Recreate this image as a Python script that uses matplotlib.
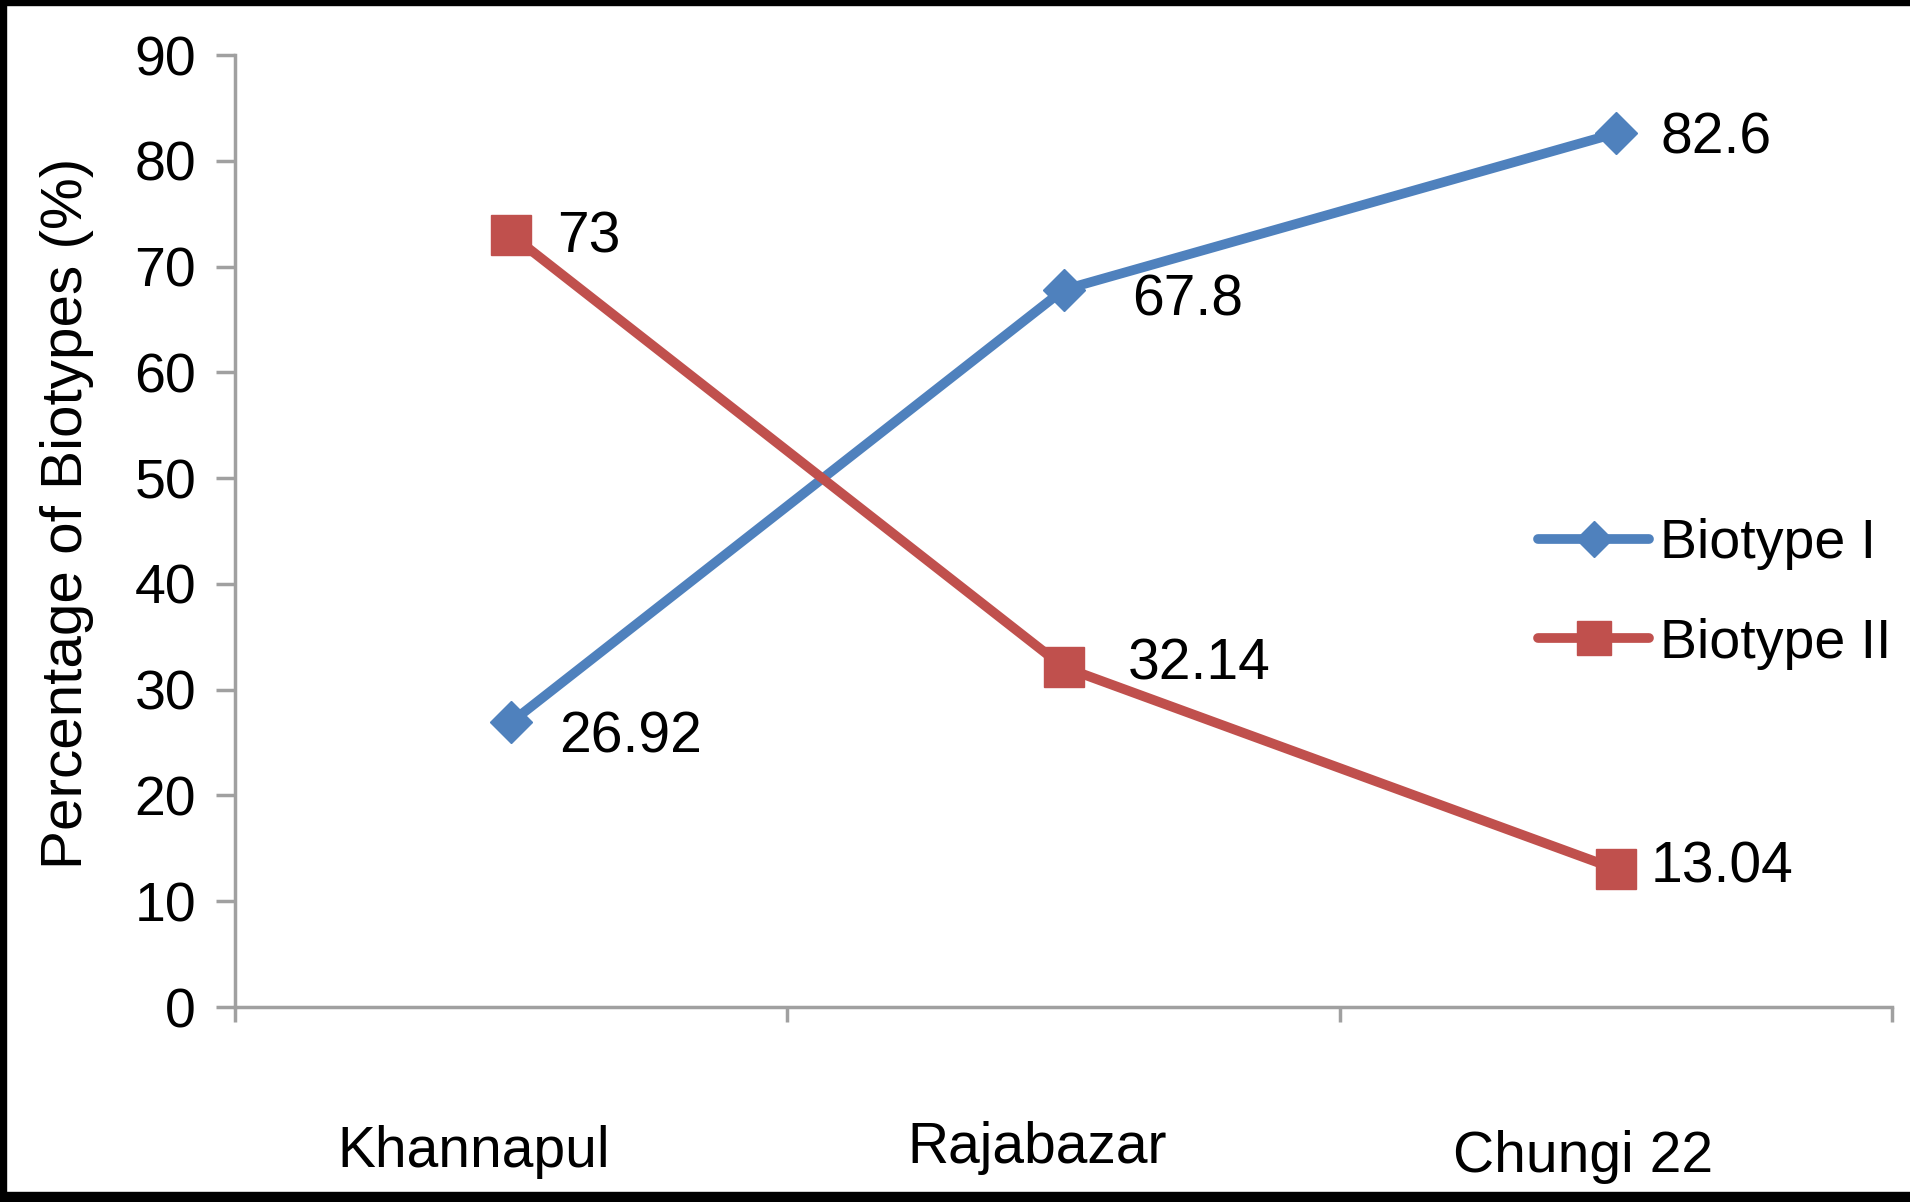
import matplotlib
matplotlib.use("Agg")
import matplotlib.pyplot as plt
from matplotlib.patches import Rectangle

# Data
sitios = ["Khannapul", "Rajabazar", "Chungi 22"]
biotipo_1 = [26.92, 67.8, 82.6]
biotipo_2 = [73, 32.14, 13.04]
etiquetas_1 = ["26.92", "67.8", "82.6"]
etiquetas_2 = ["73", "32.14", "13.04"]
ticks_y = [0, 10, 20, 30, 40, 50, 60, 70, 80, 90]

azul = "#4F81BD"
rojo = "#C0504D"
gris = "#A0A0A0"

plt.rcParams["font.family"] = ["Liberation Sans", "DejaVu Sans"]

W, H = 1910, 1202
fig = plt.figure(figsize=(W / 100, H / 100), dpi=100)
ax = fig.add_axes([235 / W, (H - 1007) / H, (1892 - 235) / W, (1007 - 55) / H])

x = list(range(len(sitios)))
ax.plot(x, biotipo_1, color=azul, lw=7, marker="D", ms=21, label="Biotype I",
        solid_joinstyle="round", solid_capstyle="round")
ax.plot(x, biotipo_2, color=rojo, lw=7, marker="s", ms=29, label="Biotype II",
        solid_joinstyle="round", solid_capstyle="round")

# Value labels next to each marker (offsets in pixels)
off_1 = [(48, -15), (69, -11), (45, -5)]
off_2 = [(46, -3), (64, 3), (35, 2)]
for i in x:
    ax.annotate(etiquetas_1[i], (i, biotipo_1[i]), xytext=off_1[i],
                textcoords="offset pixels", ha="left", va="center", fontsize=41)
    ax.annotate(etiquetas_2[i], (i, biotipo_2[i]), xytext=off_2[i],
                textcoords="offset pixels", ha="left", va="center", fontsize=41)

ax.set_xlim(-0.5, 2.5)
ax.set_ylim(0, 90)
ax.set_yticks(ticks_y)
ax.tick_params(axis="y", labelsize=40, length=14, width=2.5, color=gris, pad=14)
ax.set_xticks(x)
ax.set_xticklabels([])
ax.tick_params(axis="x", which="major", length=0)
ax.set_xticks([-0.5, 0.5, 1.5, 2.5], minor=True)
ax.tick_params(axis="x", which="minor", length=11, width=2.5, color=gris)

for lado in ["top", "right"]:
    ax.spines[lado].set_visible(False)
for lado in ["left", "bottom"]:
    ax.spines[lado].set_color(gris)
    ax.spines[lado].set_linewidth(2.5)

# Category names sit a bit left of the category centre
pos_cat = [(474, 1167), (1037, 1163), (1583, 1172)]
for nombre, (px, py) in zip(sitios, pos_cat):
    fig.text(px / W, 1 - py / H, nombre, ha="center", va="baseline", fontsize=41)

fig.text(67 / W, 1 - 513 / H, "Percentage of Biotypes (%)", rotation=90,
         ha="center", va="center", fontsize=42)

# Legend pulled slightly left so that "Biotype II" stays inside the figure
ax.legend(loc="center left", bbox_to_anchor=(1538 / W, 1 - 594 / H),
          bbox_transform=fig.transFigure, frameon=False, fontsize=40,
          handlelength=2.0, handletextpad=0.2, labelspacing=0.85,
          borderpad=0, borderaxespad=0, markerscale=0.85)

# Black frame on top, left and bottom
fig.add_artist(Rectangle((0, 1 - 5 / H), 1, 5 / H, transform=fig.transFigure,
                         color="black", zorder=10))
fig.add_artist(Rectangle((0, 0), 6 / W, 1, transform=fig.transFigure,
                         color="black", zorder=10))
fig.add_artist(Rectangle((0, 0), 1, 10 / H, transform=fig.transFigure,
                         color="black", zorder=10))

fig.savefig("out.png", dpi=100)
